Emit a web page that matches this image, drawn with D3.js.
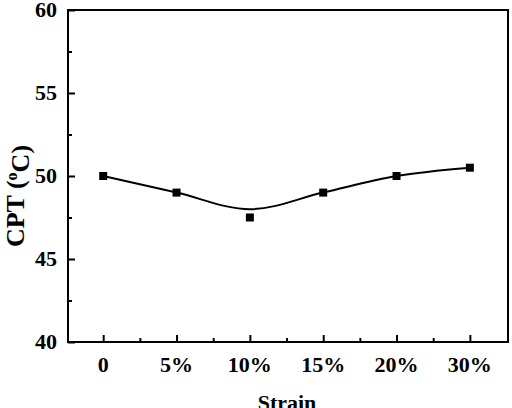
<!DOCTYPE html>
<html>
<head>
<meta charset="utf-8">
<script src="https://cdn.jsdelivr.net/npm/d3@7"></script>
<style>
  body { margin: 0; background: #fff; }
  text { font-family: "Liberation Serif", "Times New Roman", serif; font-weight: bold; }
</style>
</head>
<body>
<div id="chart"></div>
<script>
// strain categories and measured CPT values
var strainLabels = ["0", "5%", "10%", "15%", "20%", "30%"];
var cptValues = [50, 49, 47.5, 49, 50, 50.5];
// smoothed fit curve passing near the points
var fitValues = [50, 49, 48, 49, 50, 50.5];
var yTicks = [40, 45, 50, 55, 60];
var yMinorTicks = [42.5, 47.5, 52.5, 57.5];

var width = 512, height = 408;
var margin = {top: 10, right: 4, bottom: 66, left: 68};

var svg = d3.select("#chart")
  .append("svg")
    .attr("width", width)
    .attr("height", height);

var x = d3.scaleLinear()
  .domain([-0.48, 5.52])
  .range([margin.left, width - margin.right]);

var y = d3.scaleLinear()
  .domain([40, 60])
  .range([height - margin.bottom, margin.top]);

// frame
svg.append("rect")
  .attr("x", x(-0.48))
  .attr("y", y(60))
  .attr("width", x(5.52) - x(-0.48))
  .attr("height", y(40) - y(60))
  .attr("fill", "none")
  .attr("stroke", "#000")
  .attr("stroke-width", 2);

// y axis ticks (inward)
var yAxis = svg.append("g")
  .attr("transform", "translate(" + x(-0.48) + ",0)")
  .call(d3.axisRight(y).tickValues(yTicks).tickSize(7).tickFormat(""));
yAxis.select(".domain").remove();
yAxis.selectAll("line").attr("stroke-width", 2);

var yMinor = svg.append("g")
  .attr("transform", "translate(" + x(-0.48) + ",0)")
  .call(d3.axisRight(y).tickValues(yMinorTicks).tickSize(4).tickFormat(""));
yMinor.select(".domain").remove();
yMinor.selectAll("line").attr("stroke-width", 2);

svg.selectAll(".ylab")
  .data(yTicks)
  .enter()
  .append("text")
    .attr("class", "ylab")
    .attr("x", 57)
    .attr("y", d => y(d))
    .attr("dy", "0.34em")
    .attr("text-anchor", "end")
    .style("font-size", "22px")
    .text(d => d);

// x axis ticks (inward)
var xIdx = d3.range(strainLabels.length);
var xAxis = svg.append("g")
  .attr("transform", "translate(0," + y(40) + ")")
  .call(d3.axisTop(x).tickValues(xIdx).tickSize(7).tickFormat(""));
xAxis.select(".domain").remove();
xAxis.selectAll("line").attr("stroke-width", 2);

var xMinor = svg.append("g")
  .attr("transform", "translate(0," + y(40) + ")")
  .call(d3.axisTop(x).tickValues([0.5, 1.5, 2.5, 3.5, 4.5]).tickSize(4).tickFormat(""));
xMinor.select(".domain").remove();
xMinor.selectAll("line").attr("stroke-width", 2);

svg.selectAll(".xlab")
  .data(strainLabels)
  .enter()
  .append("text")
    .attr("class", "xlab")
    .attr("x", (d, i) => x(i))
    .attr("y", y(40) + 30)
    .attr("text-anchor", "middle")
    .style("font-size", "22px")
    .text(d => d);

// axis titles
svg.append("text")
  .attr("x", 287)
  .attr("y", 410)
  .attr("text-anchor", "middle")
  .style("font-size", "22px")
  .text("Strain");

var yt = svg.append("text")
  .attr("transform", "translate(24,196) rotate(-90)")
  .attr("text-anchor", "middle")
  .style("font-size", "26px");
yt.append("tspan").text("CPT (");
yt.append("tspan").attr("dy", "-0.45em").style("font-size", "16px").text("o");
yt.append("tspan").attr("dy", "0.45em").text("C)");

// fitted curve
var line = d3.line()
  .x((d, i) => x(i))
  .y(d => y(d))
  .curve(d3.curveMonotoneX);

svg.append("path")
  .datum(fitValues)
  .attr("d", line)
  .attr("fill", "none")
  .attr("stroke", "#000")
  .attr("stroke-width", 2);

// points
svg.selectAll(".pt")
  .data(cptValues)
  .enter()
  .append("rect")
    .attr("class", "pt")
    .attr("x", (d, i) => x(i) - 4)
    .attr("y", d => y(d) - 4)
    .attr("width", 8)
    .attr("height", 8)
    .attr("fill", "#000");
</script>
</body>
</html>
